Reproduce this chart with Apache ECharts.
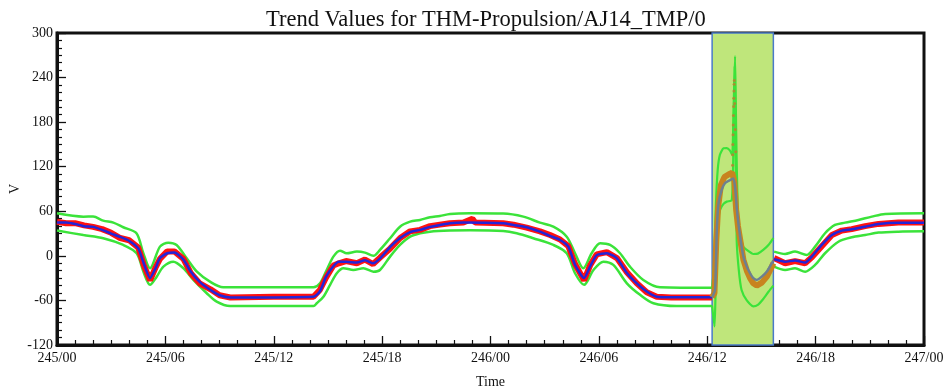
<!DOCTYPE html>
<html>
<head>
<meta charset="utf-8">
<script src="https://cdn.jsdelivr.net/npm/echarts@6/dist/echarts.min.js"></script>
<style>
html,body{margin:0;padding:0;background:#fff;}
#chart{width:946px;height:387px;}
</style>
</head>
<body>
<div id="chart"></div>
<script>
// ---- tick labels ----
const xTickLabels = ['245/00','245/06','245/12','245/18','246/00','246/06','246/12','246/18','247/00'];
const highlightStart = 36.27;
const highlightEnd = 39.66;

// ---- outside the highlighted window (hours since 245/00) ----
const meanHours = [0,0.5,1,1.5,2,2.5,3,3.5,4,4.5,4.8,5.15,5.45,5.7,6.1,6.5,7,7.4,7.9,8.5,9,9.6,14.2,14.55,14.9,15.3,15.6,16,16.6,17.05,17.5,17.9,18.45,19,19.55,20.1,20.65,21.2,21.75,22.5,24.7,25.27,26,26.74,27.3,27.85,28.31,28.68,29.18,29.51,29.88,30.44,31,31.55,32.1,32.65,33.2,34,36.27,38,39.7,40.31,40.86,41.42,41.79,42.34,42.9,43.45,44,44.74,45.48,46.58,48];
const meanValues = [45,45,43,40,39,35,30,25.5,20,10,-10,-30,-17,-3,3.5,4.5,-5,-21,-35,-46,-53,-56,-55,-48,-28,-14,-8,-8,-9,-6,-10,-3,12,24,32,35,39,41.5,44,45,44,41.6,38.5,32.6,26.8,21.4,12.4,-12,-30,-14.5,1,3.5,-3.3,-23,-37,-48,-55,-55.7,-55.7,null,-4.6,-7.8,-6.4,-9,-1,14.7,28,34,35.8,39.3,43,44.7,44.7];

const rawHours = [0,0.5,1,1.5,2,2.5,3,3.5,4,4.5,4.8,5.15,5.45,5.7,6.1,6.5,7,7.4,7.9,8.5,9,9.6,12,14.2,14.55,14.9,15.3,15.6,16,16.6,17.05,17.5,17.9,18.45,19,19.55,20.1,20.65,21.2,21.75,22.5,23,23.15,24.7,25.27,26,26.74,27.3,27.85,28.31,28.68,29.18,29.51,29.88,30.44,31,31.55,32.1,32.65,33.2,34,36.27,38,39.7,40.31,40.86,41.42,41.79,42.34,42.9,43.45,44,44.74,45.48,46.58,48];
const rawValues = [46,44,44,41,39,36,31,24,21,11,-12,-33,-16,-4,6,6,-4,-23,-37,-45,-53,-56,-55,-55,-46,-29,-13,-10,-7,-10,-5,-11,-2,10,24,33,35,40,42,44,45,50,45,44,42,38,33,28,22,13,-11,-33,-13,2,5,-3,-22,-37,-49,-55,-56,-56,null,-3,-10,-7,-10,-2,13,28,34,36,40,43,45,45];

const upperHours = [0,1.46,2.0,2.56,3.12,3.67,4.4,4.78,5.15,5.7,6.16,6.62,7.18,7.73,8.47,9.2,14.2,14.56,14.93,15.3,15.67,16.04,16.6,17.05,17.52,17.88,18.44,18.99,19.55,20.1,20.65,21.2,21.76,22.87,24.7,25.82,26.74,27.48,28.22,28.68,29.14,29.6,30.07,30.62,31.17,31.72,32.46,33.39,36.27,38,39.7,40.31,40.86,41.5,41.97,42.52,43.07,43.63,44.37,45.11,45.85,48];
const upperValues = [57.3,52.8,53,47.4,44.7,38.5,30.4,3.5,-16.7,12.4,17.8,14.7,-3.3,-21,-34.7,-42.3,-42.3,-37,-19,-1,7,3.5,5.7,4.3,0,8,23.7,39.3,46,48.3,52,53.7,56.4,57.3,57,52.8,44.7,39.3,25.8,3.5,-16.7,3.5,17,14.7,3.5,-14.5,-32.4,-42.3,-43,null,5.7,2.5,5.7,1.2,12.4,30.4,41.6,44.7,48.3,52.8,56.4,57.3];

const lowerHours = [0,1.46,2.56,3.67,4.41,4.78,5.15,5.52,5.89,6.44,7.0,7.55,8.29,8.84,9.58,14.2,14.38,14.75,15.12,15.49,15.86,16.41,16.96,17.52,17.88,18.44,18.99,19.55,20.1,20.65,21.76,22.87,24.7,25.45,26.37,27.48,28.22,28.68,29.18,29.7,30.25,30.8,31.55,32.28,33.02,34.31,36.27,38,39.7,40.31,40.86,41.42,41.97,42.52,43.26,44.0,44.74,45.48,46.58,48];
const lowerValues = [34,28,23.7,14.7,3.5,-21,-39,-28,-14.5,-7.8,-16.7,-32.4,-50.3,-61.6,-67.5,-67.5,-63.8,-55,-39,-23.4,-16.7,-19,-16.7,-21.3,-19,-1,14.7,25.8,30.4,32.6,34,34.5,33.5,30.4,23.7,14.7,3.5,-23.4,-39,-19,-7.8,-12.2,-37,-52.5,-63.8,-67.5,-67.5,null,-14.5,-19,-16.7,-21.3,-12.2,3.5,19,25,28,31.3,32.6,33];

// ---- inside the highlighted window ----
const meanInHours = [36.27,36.43,36.53,36.62,36.8,36.99,37.26,37.45,37.55,37.65,37.82,38.0,38.19,38.37,38.55,38.74,39.02,39.3,39.57,39.66];
const meanInValues = [-55.7,-46,35,70,89,98,102,104,90,60,26,-1,-14.5,-23.4,-30,-32.4,-28,-21,-10,-6];

const rawInHours = [36.27,36.4,36.5,36.6,36.75,36.95,37.2,37.38,37.5,37.6,37.7,37.85,38.0,38.19,38.37,38.55,38.74,39.02,39.3,39.57,39.66];
const rawInValues = [-56,-50,20,65,95,106,110,112,100,62,40,18,-5,-20,-30,-37,-40,-36,-28,-15,-10];

const spikeHours = [37.40,37.41,37.42,37.43,37.44,37.45,37.46,37.47,37.48,37.49,37.5,37.52,37.55,37.58];
const spikeValues = [122,136,150,163,176,189,201,212,222,231,236,205,170,140];

const upperInHours = [36.27,36.38,36.48,36.58,36.7,36.9,37.08,37.25,37.38,37.46,37.54,37.6,37.68,37.8,38.0,38.19,38.55,38.8,39.1,39.4,39.66];
const upperInValues = [-43,-10,70,116,136,144.8,145,142,136,200,269,170,70,30,12,8,2.5,3,8,15,24];

const lowerInHours = [36.27,36.4,36.45,36.53,36.62,36.71,36.9,37.08,37.36,37.45,37.52,37.56,37.63,37.75,37.9,38.19,38.55,38.8,39.1,39.4,39.66];
const lowerInValues = [-67,-95,-60,12,50,62,70,73,75,150,255,160,21,-20,-46,-60,-68,-66,-58,-48,-40];

function pairs(h, v) { return h.map((x, i) => [x, v[i]]); }

const FONT = 'Liberation Serif';
const GREEN = '#3be33a';
const chart = echarts.init(document.getElementById('chart'), null, {renderer: 'canvas'});

function axisCommon() {
  return {
    axisLine: {show: true, onZero: false, lineStyle: {color: '#111', width: 3}},
    axisTick: {show: true, inside: true, length: 9, lineStyle: {color: '#111', width: 1.3}},
    minorTick: {show: true, splitNumber: 6, length: 5, lineStyle: {color: '#111', width: 1.2}},
    splitLine: {show: false},
    minorSplitLine: {show: false}
  };
}

function lineSeries(name, data, color, width, z, extra) {
  return Object.assign({
    name, type: 'line', data, showSymbol: false, symbol: 'none',
    lineStyle: {color, width}, itemStyle: {color}, z, connectNulls: false,
    smooth: false, silent: true
  }, extra || {});
}

chart.setOption({
  animation: false,
  backgroundColor: '#fff',
  title: {
    text: 'Trend Values for THM-Propulsion/AJ14_TMP/0',
    left: 261, top: 4,
    textStyle: {fontFamily: FONT, fontSize: 22.5, fontWeight: 'normal', color: '#111'}
  },
  grid: {left: 57, right: 22, top: 33, bottom: 42, show: true, borderColor: '#111', borderWidth: 3,
    backgroundColor: 'transparent', containLabel: false, outerBoundsMode: 'none'},
  xAxis: Object.assign({
    type: 'value', min: 0, max: 48, interval: 6,
    name: 'Time', nameLocation: 'middle', nameGap: 30,
    nameTextStyle: {fontFamily: FONT, fontSize: 14, color: '#111'},
    axisLabel: {fontFamily: FONT, fontSize: 14, color: '#111', margin: 6,
      formatter: v => xTickLabels[Math.round(v / 6)]}
  }, axisCommon()),
  yAxis: Object.assign({
    type: 'value', min: -120, max: 300, interval: 60,
    name: 'V', nameLocation: 'middle', nameGap: 35, nameMoveOverlap: false,
    nameTextStyle: {fontFamily: FONT, fontSize: 14, color: '#111'},
    axisLabel: {fontFamily: FONT, fontSize: 14, color: '#111', margin: 4}
  }, axisCommon()),
  series: [
    lineSeries('Upper limit', pairs(upperHours, upperValues), GREEN, 2.5, 2, {
      smooth: 0.3,
      markArea: {
        silent: true,
        itemStyle: {color: '#bfe67b', borderColor: '#4a7ac8', borderWidth: 1.5},
        data: [[{xAxis: highlightStart}, {xAxis: highlightEnd}]]
      }
    }),
    lineSeries('Lower limit', pairs(lowerHours, lowerValues), GREEN, 2.5, 2, {smooth: 0.3}),
    lineSeries('Data', pairs(rawHours, rawValues), '#ff1111', 6, 3),
    lineSeries('Mean', pairs(meanHours, meanValues), '#2424d8', 2.5, 4, {smooth: 0.2}),
    lineSeries('Upper limit (window)', pairs(upperInHours, upperInValues), GREEN, 2.2, 5, {smooth: 0.2}),
    lineSeries('Lower limit (window)', pairs(lowerInHours, lowerInValues), GREEN, 2.2, 5, {smooth: 0.2}),
    lineSeries('Data (window)', pairs(rawInHours, rawInValues), '#c8841f', 6, 5),
    {
      name: 'Spike samples', type: 'scatter', data: pairs(spikeHours, spikeValues),
      symbolSize: 3, itemStyle: {color: '#c07a30'}, z: 6, silent: true
    },
    lineSeries('Mean (window)', pairs(meanInHours, meanInValues), '#6d8090', 2.5, 6, {smooth: 0.2})
  ]
});
</script>
</body>
</html>
